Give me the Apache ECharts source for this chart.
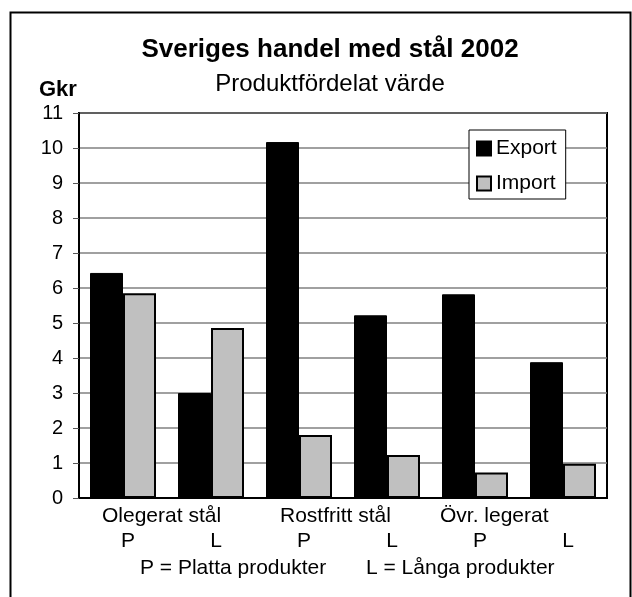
<!DOCTYPE html>
<html>
<head>
<meta charset="utf-8">
<script src="https://cdn.jsdelivr.net/npm/echarts@6/dist/echarts.min.js"></script>
<style>
  html, body { margin: 0; padding: 0; background: #fff; }
  #chart { width: 632px; height: 597px; }
</style>
</head>
<body>
<div id="chart"></div>
<script>
// data
const categories = ['P', 'L', 'P', 'L', 'P', 'L'];
const groups = ['Olegerat stål', 'Rostfritt stål', 'Övr. legerat'];
const exportValues = [6.43, 3.0, 10.17, 5.22, 5.82, 3.88];
const importValues = [5.85, 4.86, 1.8, 1.23, 0.73, 0.98];

const font = 'Liberation Sans, Arial, sans-serif';
const chart = echarts.init(document.getElementById('chart'));

const option = {
  backgroundColor: '#fff',
  animation: false,
  textStyle: { fontFamily: font, color: '#000' },
  title: [
    {
      text: 'Sveriges handel med stål 2002',
      left: 325, top: 32, textAlign: 'center',
      textStyle: { fontFamily: font, fontSize: 26, fontWeight: 'bold', color: '#000' }
    },
    {
      text: 'Produktfördelat värde',
      left: 325, top: 67, textAlign: 'center',
      textStyle: { fontFamily: font, fontSize: 24, fontWeight: 'normal', color: '#000' }
    },
    {
      text: 'Gkr',
      left: 34, top: 74,
      textStyle: { fontFamily: font, fontSize: 22, fontWeight: 'bold', color: '#000' }
    }
  ],
  legend: {
    orient: 'vertical',
    left: 469, top: 130,
    padding: [8, 9, 5, 7],
    itemGap: 14,
    itemWidth: 14, itemHeight: 14,
    icon: 'rect',
    backgroundColor: '#fff',
    borderColor: '#000',
    borderWidth: 1,
    textStyle: { fontFamily: font, fontSize: 21, color: '#000' },
    data: ['Export', 'Import']
  },
  grid: {
    left: 79, top: 113, right: 25, bottom: 99,
    show: true, borderColor: '#000', borderWidth: 2
  },
  xAxis: {
    type: 'category',
    data: categories,
    axisLine: { lineStyle: { color: '#000', width: 2 } },
    axisTick: { show: false },
    axisLabel: { margin: 33, padding: [0, 0, 0, 10], fontFamily: font, fontSize: 21, color: '#000' }
  },
  yAxis: {
    type: 'value',
    min: 0, max: 11, interval: 1,
    axisLine: { show: true, lineStyle: { color: '#000', width: 2 } },
    axisTick: { show: true, inside: false, length: 6, lineStyle: { color: '#555', width: 1 } },
    axisLabel: { margin: 16, fontFamily: font, fontSize: 20, color: '#000' },
    splitLine: { lineStyle: { color: '#808080', width: 1.5 } }
  },
  series: [
    {
      name: 'Export', type: 'bar', data: exportValues,
      barGap: '0%', barCategoryGap: '25%',
      itemStyle: { color: '#000', borderColor: '#000', borderWidth: 1 }
    },
    {
      name: 'Import', type: 'bar', data: importValues,
      itemStyle: { color: '#c0c0c0', borderColor: '#000', borderWidth: 2 }
    }
  ],
  graphic: [
    {
      type: 'rect', left: 8, top: 10, silent: true, z: -1,
      shape: { width: 620, height: 600 },
      style: { fill: 'none', stroke: '#000', lineWidth: 2 }
    },
    {
      type: 'text', left: 102, top: 506,
      style: { text: groups[0], font: '21px ' + font, fill: '#000' }
    },
    {
      type: 'text', left: 280, top: 506,
      style: { text: groups[1], font: '21px ' + font, fill: '#000' }
    },
    {
      type: 'text', left: 440, top: 506,
      style: { text: groups[2], font: '21px ' + font, fill: '#000' }
    },
    {
      type: 'text', left: 140, top: 558,
      style: { text: 'P = Platta produkter', font: '21px ' + font, fill: '#000' }
    },
    {
      type: 'text', left: 366, top: 558,
      style: { text: 'L = Långa produkter', font: '21px ' + font, fill: '#000' }
    }
  ]
};

chart.setOption(option);
</script>
</body>
</html>
